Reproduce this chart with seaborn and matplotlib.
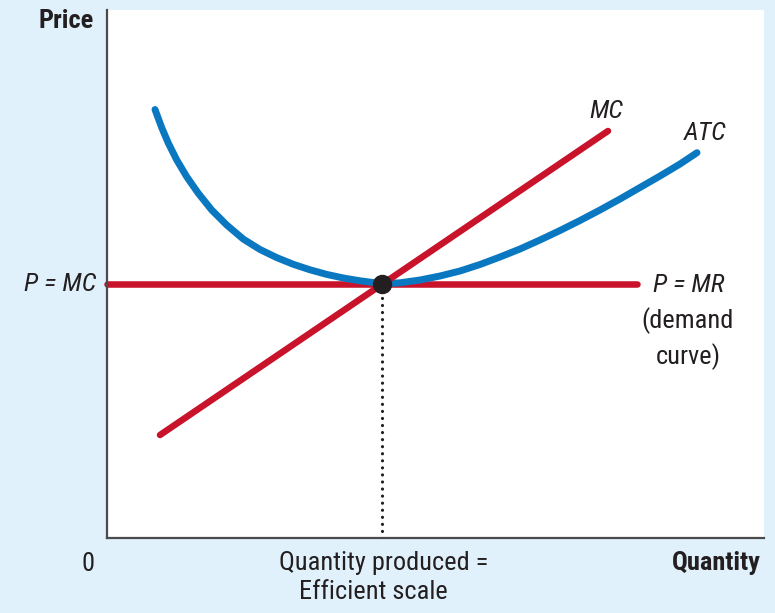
import matplotlib
matplotlib.use("Agg")
import matplotlib.pyplot as plt
from matplotlib import font_manager
import seaborn as sns

# --- data (abstract units: quantity 0-657, price 0-528) ---
atc_quantity = [48, 54.7, 61.3, 69.7, 79.7, 91.3, 104.7, 119.7, 136.3, 153, 169.7,
                186.3, 203, 219.7, 236.3, 253, 275,
                293, 313, 333, 353, 373, 393, 413, 433, 453, 473, 493, 513, 533,
                553, 573, 590]
atc_price = [428.5, 410.4, 394.9, 378.1, 361.3, 344.7, 328, 313, 298.9, 288.5, 280.4,
             273.7, 268.2, 263.6, 260, 257.2, 254.3,
             255.2, 258, 262, 267, 273.5, 281, 289, 298, 307.5, 317.5, 328, 339, 350.5,
             362, 374, 385.3]
mc_quantity = [53, 501]
mc_price = [103, 407]
mr_quantity = [0, 530]
mr_price = [254, 254]
efficient_quantity = 275
market_price = 254

RED = "#c8132b"
BLUE = "#0a78c0"
INK = "#231f20"
BG = "#e0f1fb"

sns.set_theme(style="white")
available = {f.name for f in font_manager.fontManager.ttflist}
family = [f for f in ["Liberation Sans Narrow", "Roboto Condensed", "DejaVu Sans"] if f in available]
plt.rcParams["font.family"] = family

W, H = 775, 613
fig = plt.figure(figsize=(W / 100, H / 100), dpi=100, facecolor=BG)
left, right, top, bottom = 107, 764, 10, 538
ax = fig.add_axes([left / W, 1 - bottom / H, (right - left) / W, (bottom - top) / H])
ax.set_facecolor("white")
ax.set_xlim(0, right - left)
ax.set_ylim(0, bottom - top)

sns.lineplot(x=mr_quantity, y=mr_price, ax=ax, color=RED, lw=4.7,
             solid_capstyle="round", clip_on=False, sort=False, estimator=None)
sns.lineplot(x=atc_quantity, y=atc_price, ax=ax, color=BLUE, lw=5.0,
             solid_capstyle="round", solid_joinstyle="round", sort=False, estimator=None)
sns.lineplot(x=mc_quantity, y=mc_price, ax=ax, color=RED, lw=4.7,
             solid_capstyle="round", sort=False, estimator=None)

# dotted drop line to the efficient scale
ax.plot([efficient_quantity, efficient_quantity], [0, market_price], color=INK,
        lw=2.3, linestyle=(0, (0.01, 2.2)), dash_capstyle="round")
ax.plot([efficient_quantity], [market_price], "o", color=INK, ms=13, zorder=5)

ax.set_xticks([])
ax.set_yticks([])
ax.set_xlabel("")
ax.set_ylabel("")
for side in ["top", "right"]:
    ax.spines[side].set_visible(False)
for side in ["left", "bottom"]:
    ax.spines[side].set_color("#4a4a4a")
    ax.spines[side].set_linewidth(1.6)


def label(x, y, s, ha="center", **kw):
    fig.text(x / W, 1 - y / H, s, ha=ha, va="center", color=INK, fontsize=19, **kw)


label(94, 21, "Price", ha="right", fontweight="bold")
label(96, 284, "P = MC", ha="right", fontstyle="italic")
label(606, 111, "MC", fontstyle="italic")
label(705, 133, "ATC", fontstyle="italic")
label(689, 285, "P = MR", fontstyle="italic")
label(688, 321, "(demand")
label(688, 357, "curve)")
label(88, 564, "0")
label(384, 563, "Quantity produced =")
label(373, 592, "Efficient scale")
label(761, 563, "Quantity", ha="right", fontweight="bold")

fig.savefig("out.png", dpi=100, facecolor=BG)
